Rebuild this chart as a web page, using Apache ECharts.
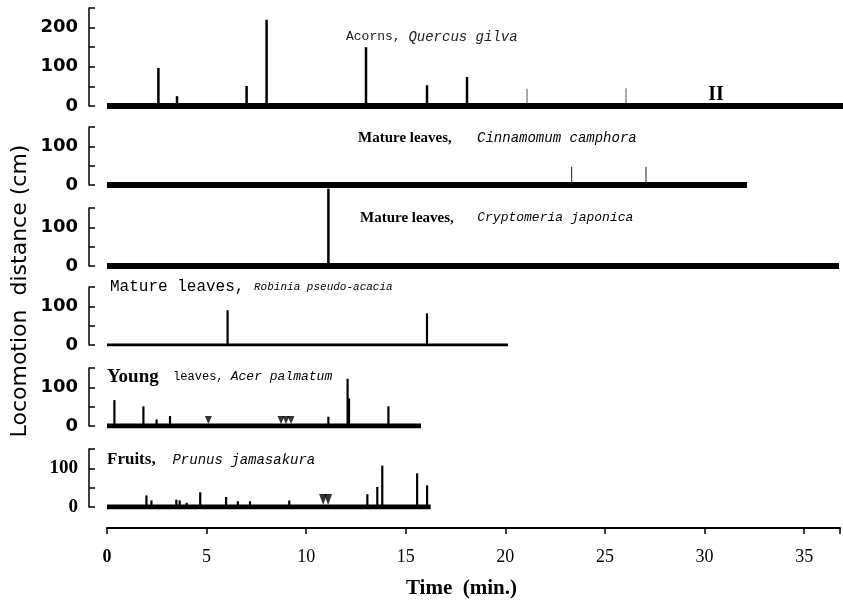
<!DOCTYPE html>
<html>
<head>
<meta charset="utf-8">
<title>Locomotion distance</title>
<script src="https://cdn.jsdelivr.net/npm/echarts@6/dist/echarts.min.js"></script>
<style>
  html, body { margin: 0; padding: 0; background: #fff; }
  #chart { width: 843px; height: 601px; }
</style>
</head>
<body>
<div id="chart"></div>
<script>
// [time (min), distance (cm)] of each move, one list per material
var acorns      = [[2.57, 97], [3.5, 25], [6.98, 51], [7.98, 220], [12.95, 150], [16.0, 53], [18.0, 74]];
var acornsFaint = [[21.0, 44], [25.95, 45]];
var cinnamomum  = [[23.23, 47], [26.95, 47]];
var cryptomeria = [[11.07, 200]];
var robinia     = [[6.03, 90], [16.0, 82]];
var acer        = [[0.37, 67], [1.82, 51], [2.48, 17], [3.15, 26], [11.07, 24], [12.03, 122], [12.1, 71], [14.07, 51]];
var prunus      = [[1.98, 30], [2.23, 17], [3.48, 19], [3.65, 17], [4.0, 11], [4.68, 38], [5.98, 26], [6.57, 15],
                   [7.18, 15], [9.15, 17], [13.07, 33], [13.57, 52], [13.82, 107], [15.57, 87], [16.07, 56]];
// triangle marks (min)
var acerMarks   = [5.07, 8.7, 8.95, 9.2];
var prunusMarks = [10.85, 11.1];
// end of each record (min)
var recordEnd = [37.5, 32.0, 36.6, 20.05, 15.7, 16.25];
var yMax = [250, 150, 150, 150, 150, 150];

var MONO = "'Liberation Mono', 'DejaVu Sans Mono', monospace";
var SERIF = "'Liberation Serif', 'DejaVu Serif', serif";

var chart = echarts.init(document.getElementById('chart'));

// panel layout: top of each grid and its height
var panels = [
    {top: 8, height: 98},
    {top: 127, height: 58},
    {top: 208, height: 58},
    {top: 287, height: 58},
    {top: 368, height: 58},
    {top: 449, height: 58}
];

var grids = [], xAxes = [], yAxes = [];
panels.forEach(function (p, i) {
    grids.push({left: 107, width: 736, top: p.top, height: p.height});
    var last = i === panels.length - 1;
    xAxes.push({
        gridIndex: i, type: 'value', min: 0, max: 36.8, interval: 5,
        show: last, offset: last ? 21 : 0,
        axisLine: {show: true, onZero: false, lineStyle: {color: '#000', width: 2}},
        axisTick: {show: true, length: 6, lineStyle: {color: '#000', width: 1.5}},
        axisLabel: {
            margin: 20, color: '#000', fontFamily: SERIF, fontSize: 18,
            formatter: function (v) { return v % 5 === 0 ? (v === 0 ? '{b|0}' : String(v)) : ''; },
            rich: {b: {fontFamily: SERIF, fontSize: 18, fontWeight: 'bold', color: '#000'}}
        },
        splitLine: {show: false},
        name: last ? 'Time  (min.)' : '',
        nameLocation: 'middle', nameGap: 50,
        nameTextStyle: {fontFamily: SERIF, fontWeight: 'bold', fontSize: 21, color: '#000', padding: [0, 24, 0, 0]}
    });
    yAxes.push({
        gridIndex: i, type: 'value', min: 0, max: yMax[i], interval: 50,
        offset: 18,
        axisLine: {show: true, onZero: false, lineStyle: {color: '#000', width: 1.5}},
        axisTick: {show: true, inside: true, length: 6, lineStyle: {color: '#000', width: 1.5}},
        axisLabel: {
            margin: 11, color: '#000',
            fontFamily: last ? SERIF : "'DejaVu Sans', sans-serif",
            fontWeight: 'bold', fontSize: last ? 19 : 18,
            formatter: function (v) { return v % 100 === 0 ? String(v) : ''; }
        },
        splitLine: {show: false}
    });
});

function baseline(idx, width) {
    return {
        type: 'line', xAxisIndex: idx, yAxisIndex: idx,
        data: [[0, 0], [recordEnd[idx], 0]],
        symbol: 'none', silent: true,
        lineStyle: {color: '#000', width: width, cap: 'butt'}
    };
}

function spikes(idx, data, width, color) {
    return {
        type: 'custom', xAxisIndex: idx, yAxisIndex: idx,
        data: data, clip: false, silent: true,
        encode: {x: 0, y: 1},
        renderItem: function (params, api) {
            var p0 = api.coord([api.value(0), 0]);
            var p1 = api.coord([api.value(0), api.value(1)]);
            return {
                type: 'line',
                shape: {x1: p0[0], y1: p0[1], x2: p1[0], y2: p1[1]},
                style: {stroke: color, lineWidth: width}
            };
        }
    };
}

function marks(idx, times, size) {
    return {
        type: 'scatter', xAxisIndex: idx, yAxisIndex: idx, silent: true,
        data: times.map(function (t) { return [t, 0]; }),
        symbol: 'triangle', symbolRotate: 180,
        symbolSize: size, symbolOffset: [0, -(size[1] / 2 + 2)],
        itemStyle: {color: '#000'}
    };
}

function caption(x, y, text, rich) {
    return {type: 'text', x: x, y: y, silent: true,
        style: {text: text, rich: rich, align: 'left', verticalAlign: 'middle', fill: '#000'}};
}

var option = {
    animation: false,
    backgroundColor: '#fff',
    grid: grids,
    xAxis: xAxes,
    yAxis: yAxes,
    series: [
        baseline(0, 6), baseline(1, 6), baseline(2, 6),
        baseline(3, 3), baseline(4, 5), baseline(5, 5),
        spikes(0, acorns, 2.5, '#000'),
        spikes(0, acornsFaint, 1, '#555'),
        spikes(1, cinnamomum, 1.2, '#444'),
        spikes(2, cryptomeria, 2.5, '#000'),
        spikes(3, robinia, 2.2, '#000'),
        spikes(4, acer, 2.2, '#000'),
        spikes(5, prunus, 2.2, '#000'),
        marks(4, acerMarks, [7, 8]),
        marks(5, prunusMarks, [8, 11])
    ],
    graphic: [
        caption(346, 37, '{m|Acorns, }{i|Quercus gilva}', {
            m: {fontFamily: MONO, fontSize: 13, fill: '#222'},
            i: {fontFamily: MONO, fontSize: 14, fontStyle: 'italic', fill: '#222'}
        }),
        caption(358, 138, '{b|Mature leaves,}{i|   Cinnamomum camphora}', {
            b: {fontFamily: SERIF, fontSize: 15, fontWeight: 'bold', fill: '#000'},
            i: {fontFamily: MONO, fontSize: 14, fontStyle: 'italic', fill: '#000'}
        }),
        caption(360, 218, '{b|Mature leaves,}{i|   Cryptomeria japonica}', {
            b: {fontFamily: SERIF, fontSize: 15, fontWeight: 'bold', fill: '#000'},
            i: {fontFamily: MONO, fontSize: 13, fontStyle: 'italic', fill: '#000'}
        }),
        caption(110, 287, '{m|Mature leaves, }{i|Robinia pseudo-acacia}', {
            m: {fontFamily: MONO, fontSize: 16, fill: '#000'},
            i: {fontFamily: MONO, fontSize: 11, fontStyle: 'italic', fill: '#000'}
        }),
        caption(107, 377, '{y|Young}{m|  leaves, }{i|Acer palmatum}', {
            y: {fontFamily: SERIF, fontSize: 19, fontWeight: 'bold', fill: '#000'},
            m: {fontFamily: MONO, fontSize: 12, fill: '#000'},
            i: {fontFamily: MONO, fontSize: 13, fontStyle: 'italic', fill: '#000'}
        }),
        caption(107, 460, '{b|Fruits,}{i|  Prunus jamasakura}', {
            b: {fontFamily: SERIF, fontSize: 17, fontWeight: 'bold', fill: '#000'},
            i: {fontFamily: MONO, fontSize: 14, fontStyle: 'italic', fill: '#000'}
        }),
        {type: 'text', x: 716, y: 95, silent: true,
            style: {text: 'II', fontFamily: SERIF, fontSize: 20, fontWeight: 'bold',
                fill: '#000', align: 'center', verticalAlign: 'middle'}},
        {type: 'text', x: 20, y: 291, rotation: Math.PI / 2, silent: true,
            style: {text: 'Locomotion  distance (cm)', fontFamily: "'DejaVu Sans', sans-serif",
                fontSize: 22, fill: '#000', align: 'center', verticalAlign: 'middle'}}
    ]
};

chart.setOption(option);
</script>
</body>
</html>
